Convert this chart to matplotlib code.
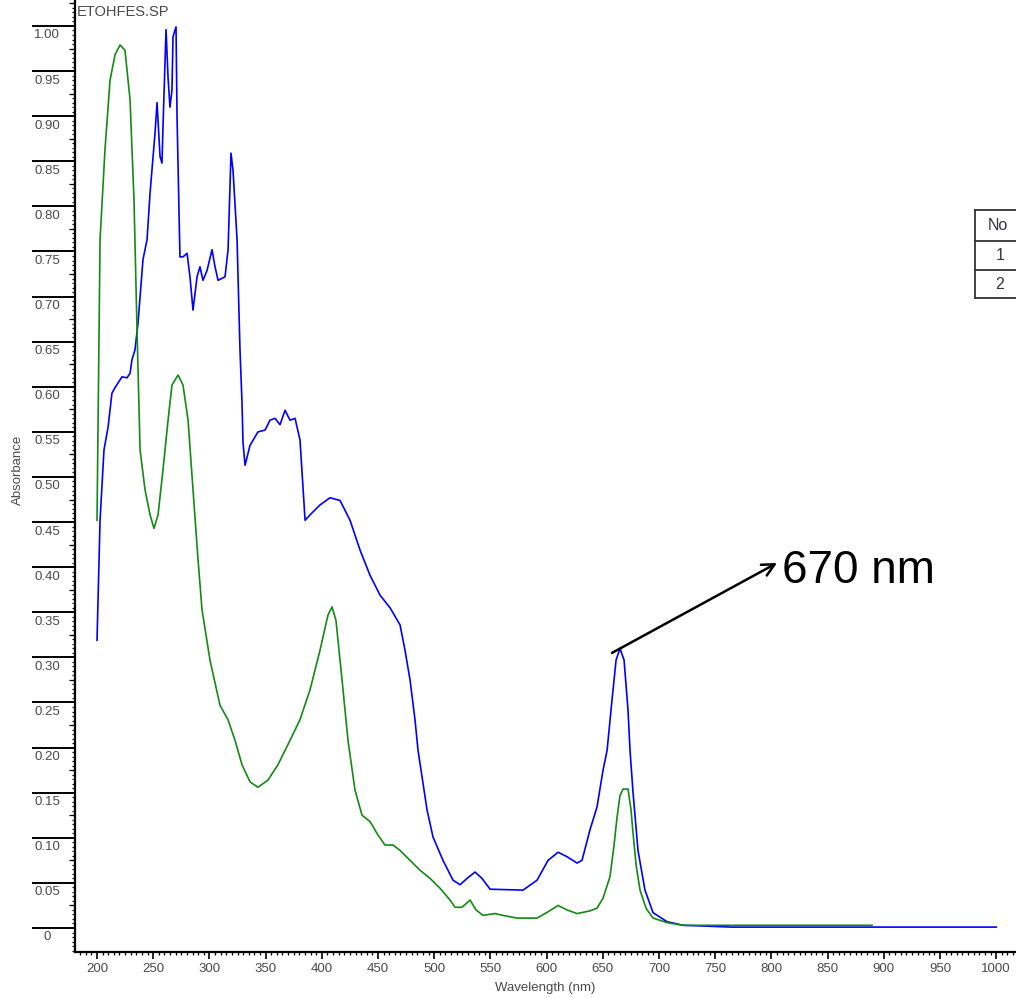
import matplotlib
matplotlib.use('Agg')
import matplotlib.pyplot as plt
import matplotlib.markers as mmarkers
from matplotlib.lines import Line2D
import numpy as np

plt.rcParams['font.family'] = ['Liberation Sans', 'DejaVu Sans']

# sample 1 (blue) - wavelength (nm), absorbance
wl_blue = [200.0, 202.7, 206.2, 209.8, 213.3, 216.0, 222.2, 226.7, 229.4, 231.1, 233.8, 236.5,
           240.9, 244.5, 247.2, 251.6, 253.4, 256.1, 257.8, 258.7, 261.4, 263.2, 264.9, 266.7,
           267.6, 270.3, 271.2, 273.8, 276.5, 280.1, 282.7, 285.4, 289.0, 291.6, 294.3, 297.9,
           302.3, 305.0, 307.7, 313.9, 316.6, 319.2, 321.0, 324.6, 327.2, 329.0, 329.9, 331.7,
           336.1, 343.2, 349.5, 353.9, 358.4, 362.8, 367.3, 371.7, 376.2, 380.6, 385.1, 389.5,
           398.4, 407.3, 416.2, 425.1, 434.0, 442.9, 451.8, 460.7, 469.6, 474.0, 478.5, 482.9,
           485.6, 493.6, 498.9, 507.8, 516.7, 523.0, 529.2, 536.3, 542.5, 549.7, 579.0, 591.5,
           601.3, 610.2, 618.2, 627.1, 631.5, 638.6, 644.8, 650.2, 653.8, 658.2, 661.8, 665.3,
           668.9, 672.4, 674.2, 676.9, 681.3, 687.5, 694.7, 707.1, 721.4, 765.0, 1000.0]
abs_blue = [0.319, 0.452, 0.530, 0.555, 0.593, 0.599, 0.611, 0.610, 0.615, 0.630, 0.641, 0.671,
            0.741, 0.763, 0.815, 0.881, 0.915, 0.855, 0.848, 0.888, 0.996, 0.943, 0.910, 0.929,
            0.988, 0.999, 0.899, 0.744, 0.744, 0.748, 0.722, 0.685, 0.722, 0.733, 0.718, 0.729,
            0.752, 0.733, 0.718, 0.722, 0.752, 0.859, 0.840, 0.763, 0.641, 0.582, 0.538, 0.513,
            0.535, 0.550, 0.552, 0.563, 0.565, 0.558, 0.574, 0.563, 0.565, 0.541, 0.452, 0.458,
            0.469, 0.477, 0.474, 0.452, 0.419, 0.391, 0.369, 0.355, 0.336, 0.308, 0.275, 0.231,
            0.197, 0.131, 0.101, 0.075, 0.053, 0.048, 0.055, 0.062, 0.055, 0.043, 0.042, 0.053,
            0.075, 0.084, 0.079, 0.072, 0.075, 0.109, 0.134, 0.175, 0.197, 0.253, 0.297, 0.310,
            0.297, 0.242, 0.197, 0.150, 0.086, 0.042, 0.017, 0.007, 0.003, 0.001, 0.001]

# sample 2 (green)
wl_green = [200.0, 202.7, 207.1, 211.6, 216.0, 220.5, 224.9, 229.4, 232.9, 235.6, 238.3, 242.7,
            247.2, 250.7, 254.3, 258.7, 263.2, 266.7, 272.1, 276.5, 281.0, 285.4, 289.9, 293.4,
            300.5, 309.4, 316.5, 322.8, 329.0, 336.1, 343.2, 352.1, 361.0, 371.7, 380.6, 389.5,
            398.4, 405.5, 409.1, 412.6, 418.0, 423.3, 429.5, 435.8, 442.9, 450.0, 456.2, 463.4,
            469.6, 478.5, 487.4, 496.3, 505.2, 514.1, 518.5, 524.7, 531.9, 537.2, 543.4, 554.1,
            561.2, 573.7, 591.5, 601.3, 610.2, 618.2, 627.1, 638.6, 644.8, 650.2, 656.4, 660.0,
            662.7, 665.3, 668.0, 672.4, 675.1, 676.9, 679.6, 683.1, 688.4, 694.7, 707.1, 721.4,
            765.0, 889.5]
abs_green = [0.452, 0.763, 0.863, 0.940, 0.968, 0.979, 0.973, 0.918, 0.807, 0.663, 0.530, 0.486,
             0.458, 0.443, 0.458, 0.508, 0.563, 0.602, 0.613, 0.602, 0.563, 0.486, 0.408, 0.353,
             0.297, 0.247, 0.231, 0.208, 0.181, 0.162, 0.156, 0.164, 0.181, 0.208, 0.231, 0.264,
             0.308, 0.347, 0.356, 0.341, 0.275, 0.208, 0.153, 0.125, 0.118, 0.103, 0.092, 0.092,
             0.086, 0.075, 0.064, 0.055, 0.044, 0.031, 0.023, 0.023, 0.031, 0.020, 0.014, 0.016,
             0.014, 0.011, 0.011, 0.018, 0.025, 0.020, 0.016, 0.019, 0.022, 0.033, 0.057, 0.092,
             0.123, 0.147, 0.154, 0.154, 0.131, 0.105, 0.070, 0.042, 0.022, 0.011, 0.006, 0.003,
             0.003, 0.003]

yticks = [0.0, 0.05, 0.10, 0.15, 0.20, 0.25, 0.30, 0.35, 0.40, 0.45, 0.50,
          0.55, 0.60, 0.65, 0.70, 0.75, 0.80, 0.85, 0.90, 0.95, 1.00]
ytick_labels = ['0'] + ['%.2f' % v for v in yticks[1:]]
xticks = list(range(200, 1001, 50))
table_rows = ['No', '1', '2']

peak_label = '670 nm'
arrow_from = (658.2, 0.305)
arrow_to = (805.0, 0.4047)

fig = plt.figure(figsize=(10.16, 9.98), dpi=100)
ax = fig.add_axes([0.0738, 0.0461, 1 - 0.0738, 1 - 0.0461])

ax.plot(wl_blue, abs_blue, color='#0000ff', lw=1.2, zorder=3)
ax.plot(wl_green, abs_green, color='#138a13', lw=1.2, zorder=4)

ax.set_xlim(180.4, 1017.6)
ax.set_ylim(-0.0266, 1.0288)

for s in ['top', 'right']:
    ax.spines[s].set_visible(False)
for s in ['left', 'bottom']:
    ax.spines[s].set_linewidth(1.6)

txt_col = '#4a4a4a'
fs = 9.5

# y axis: long major ticks with label sitting under the tick
ax.set_yticks(yticks)
ax.set_yticklabels([])
ax.set_yticks(np.arange(-0.025, 1.03, 0.005), minor=True)
ax.tick_params(axis='y', which='major', length=31, width=1.4, direction='out')
ax.tick_params(axis='y', which='minor', length=2.2, width=0.9, direction='out')
ytrans = ax.get_yaxis_transform()
for v, lab in zip(yticks, ytick_labels):
    ax.text(-0.0298, v - 0.0105, lab, transform=ytrans, ha='center', va='center',
            fontsize=fs, color=txt_col)
mid = np.arange(0.025, 1.03, 0.05)
ax.plot(np.zeros_like(mid), mid, transform=ytrans, linestyle='none',
        marker=mmarkers.TICKLEFT, markersize=4.5, markeredgewidth=0.9, color='black', clip_on=False)

# x axis
ax.set_xticks(xticks)
ax.set_xticklabels([str(v) for v in xticks], fontsize=fs, color=txt_col)
ax.set_xticks(np.arange(185, 1017, 5), minor=True)
ax.tick_params(axis='x', which='major', length=5, width=1.2, direction='out', pad=3)
ax.tick_params(axis='x', which='minor', length=2.2, width=0.9, direction='out')

ax.set_xlabel('Wavelength (nm)', fontsize=fs, color=txt_col, labelpad=5)
fig.text(18 / 1016, 1 - 470 / 998, 'Absorbance', rotation=90, ha='center', va='center',
         fontsize=fs, color=txt_col)
fig.text(77 / 1016, 1 - 12 / 998, 'ETOHFES.SP', ha='left', va='center', fontsize=10.5,
         color=txt_col)

# peak annotation
ax.annotate('', xy=arrow_to, xytext=arrow_from,
            arrowprops=dict(arrowstyle='->', lw=1.8, color='black', mutation_scale=22,
                            shrinkA=0, shrinkB=0))
ax.text(809.4, 0.3825, peak_label, ha='left', va='baseline', fontsize=33, color='black')

# small table at right edge (cut off)
W, H = 1016.0, 998.0
tx0, tx1 = 975, 1020
row_y = [210, 241, 270, 298]
for y in row_y:
    fig.add_artist(Line2D([tx0 / W, tx1 / W], [1 - y / H, 1 - y / H], color='#333333', lw=1.3))
fig.add_artist(Line2D([tx0 / W, tx0 / W], [1 - row_y[0] / H, 1 - row_y[-1] / H],
                      color='#333333', lw=1.3))
for i, lab in enumerate(table_rows):
    yc = (row_y[i] + row_y[i + 1]) / 2
    xc = 998 if lab == 'No' else 1000
    fig.text(xc / W, 1 - yc / H, lab, ha='center', va='center', fontsize=11.5, color='#333344')

fig.savefig('out.png', dpi=100)
